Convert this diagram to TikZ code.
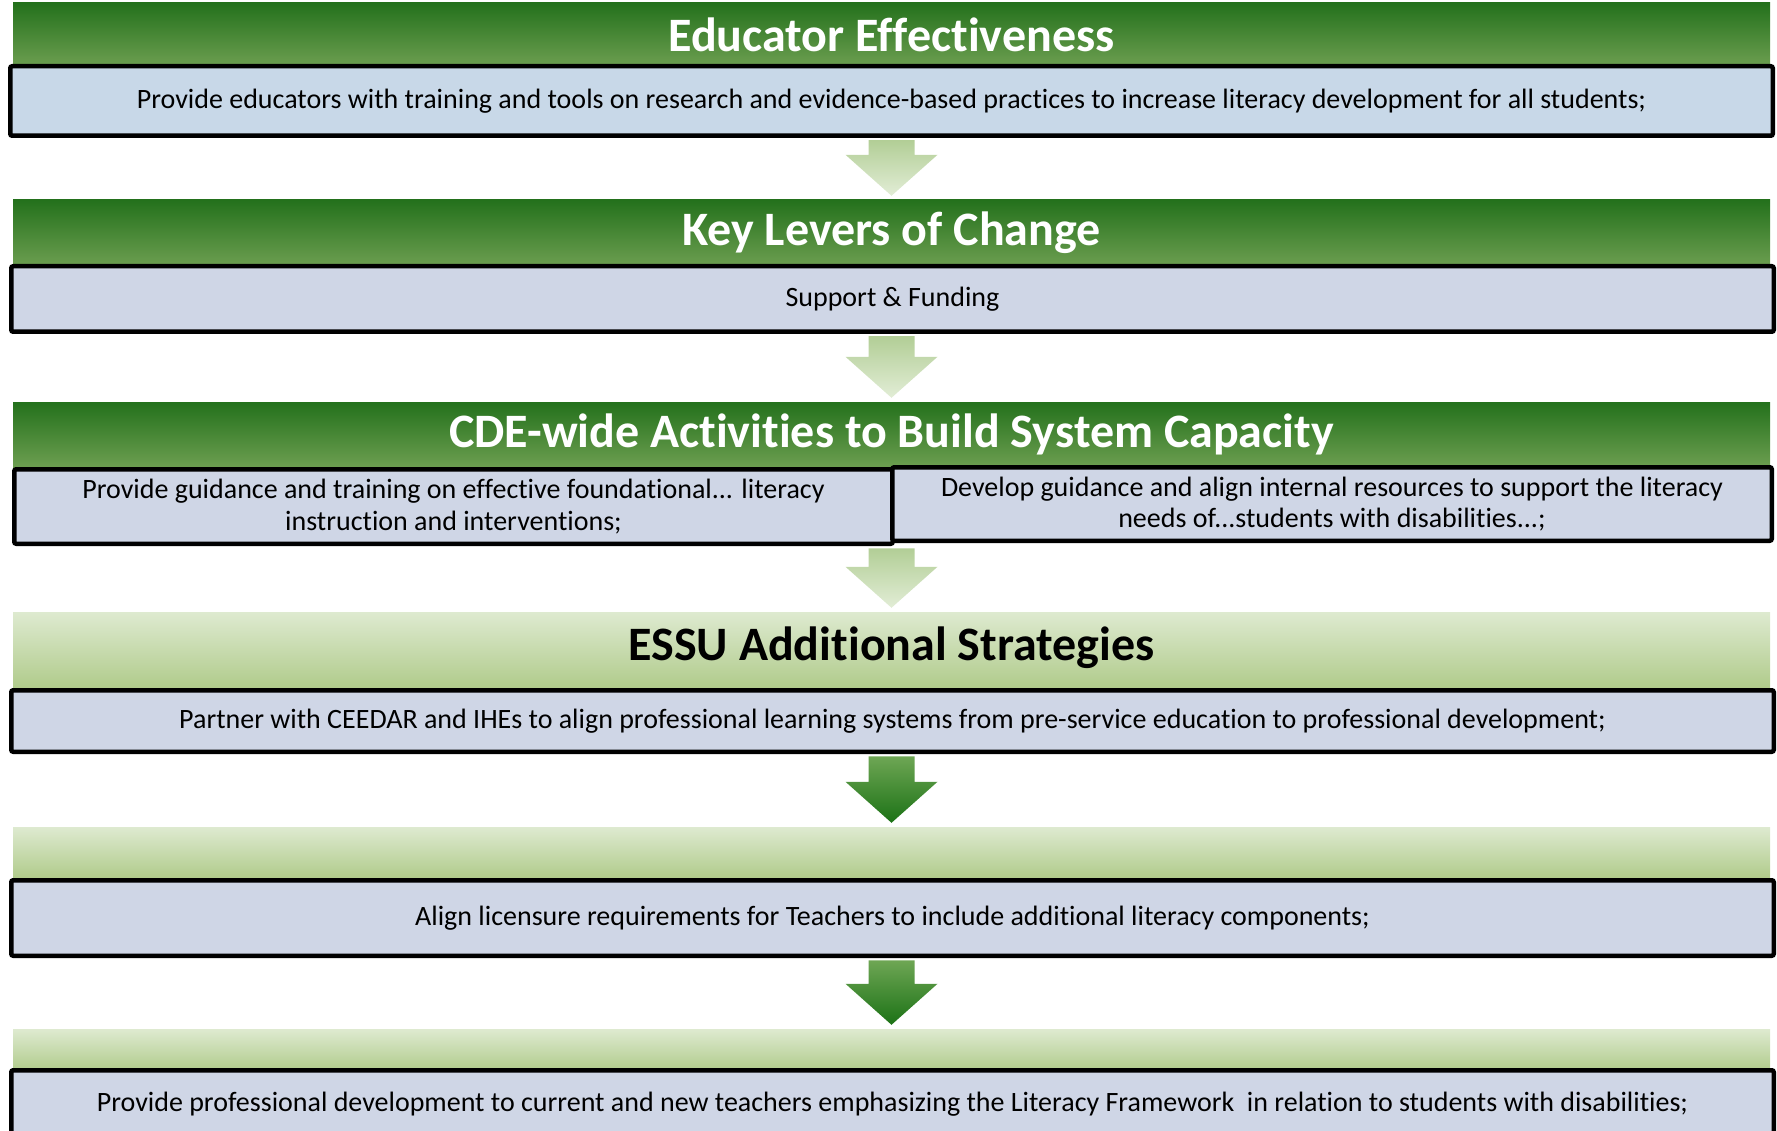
\documentclass[tikz,border=0pt]{standalone}
\usepackage{fontspec}
\setmainfont{Carlito}[Ligatures=NoCommon]
\usetikzlibrary{calc}
\definecolor{dgTop}{RGB}{36,113,28}
\definecolor{dgBot}{RGB}{108,158,80}
\definecolor{lgTop}{RGB}{222,234,208}
\definecolor{lgBot}{RGB}{176,203,139}
\definecolor{boxA}{RGB}{200,216,232}
\definecolor{boxB}{RGB}{207,214,230}
\definecolor{laTop}{RGB}{178,206,150}
\definecolor{laBot}{RGB}{226,237,214}
\definecolor{daTop}{RGB}{110,166,84}
\definecolor{daBot}{RGB}{28,114,22}
\tikzset{
  darkband/.style={shade, top color=dgTop, bottom color=dgBot, minimum width=1757pt, inner sep=0pt,
    text=white, font=\fontsize{48}{56}\selectfont\bfseries},
  lightband/.style={shade, top color=lgTop, bottom color=lgBot, minimum width=1757pt, inner sep=0pt,
    text=black, font=\fontsize{48}{56}\selectfont\bfseries},
  textbox/.style={draw=black, line width=4.5pt, rounded corners=2pt, fill=boxB, inner sep=0pt,
    font=\fontsize{28}{31.5}\selectfont, align=center},
  widebox/.style={textbox, minimum width=1762.5pt}
}
\newcommand\blockarrow[4]{%
  \shade[top color=#3, bottom color=#4] let \p1=(#1), \p2=(#2) in
    ({\x2-23pt},{\y1-2.25pt}) -- ({\x2+23pt},{\y1-2.25pt}) -- ({\x2+23pt},{\y2+45pt})
    -- ({\x2+46pt},{\y2+45pt}) -- (\x2,{\y2+4pt}) -- ({\x2-46pt},{\y2+45pt})
    -- ({\x2-23pt},{\y2+45pt}) -- cycle;}
\begin{document}
\begin{tikzpicture}[x=1pt,y=-1pt]
\useasboundingbox (0,0) rectangle (1777,1131);
% bands
\node[darkband, minimum height=63pt] (band1) at (891.5,34.5) {Educator Effectiveness};
\node[darkband, minimum height=66pt] (band2) at (891.5,233) {Key Levers of Change};
\node[darkband, minimum height=65pt] (band3) at (891.5,434.5) {CDE-wide Activities to Build System Capacity};
\node[lightband, minimum height=76pt, text depth=12pt] (band4) at (891.5,650) {ESSU Additional Strategies};
\node[lightband, minimum height=51pt] (band5) at (891.5,852.5) {};
\node[lightband, minimum height=42pt] (band6) at (891.5,1050) {};
% boxes
\node[widebox, fill=boxA, minimum height=69.5pt] (box1) at (891.5,101)
  {Provide educators with training and tools on research and evidence-based practices to increase literacy development for all students;};
\node[widebox, minimum height=65.5pt] (box2) at (892.5,299) {Support \& Funding};
\node[textbox, minimum width=878.5pt, minimum height=74.5pt] (box3l) at (453.5,506.5)
  {Provide guidance and training on effective foundational... literacy\\instruction and interventions;};
\node[textbox, minimum width=879.5pt, minimum height=73.5pt] (box3r) at (1332,504)
  {Develop guidance and align internal resources to support the literacy\\needs of...students with disabilities...;};
\node[widebox, minimum height=61.5pt] (box4) at (892.5,721)
  {Partner with CEEDAR and IHEs to align professional learning systems from pre-service education to professional development;};
\node[widebox, minimum height=75.5pt] (box5) at (892.5,918)
  {Align licensure requirements for Teachers to include additional literacy components;};
\node[widebox, minimum height=67.5pt] (box6) at (892.5,1104)
  {Provide professional development to current and new teachers emphasizing the Literacy Framework\ \ in relation to students with disabilities;};
% block arrows
\blockarrow{box1.south}{band2.north}{laTop}{laBot}
\blockarrow{box2.south}{band3.north}{laTop}{laBot}
\blockarrow{box3l.south}{band4.north}{laTop}{laBot}
\blockarrow{box4.south}{band5.north}{daTop}{daBot}
\blockarrow{box5.south}{band6.north}{daTop}{daBot}
\end{tikzpicture}
\end{document}
